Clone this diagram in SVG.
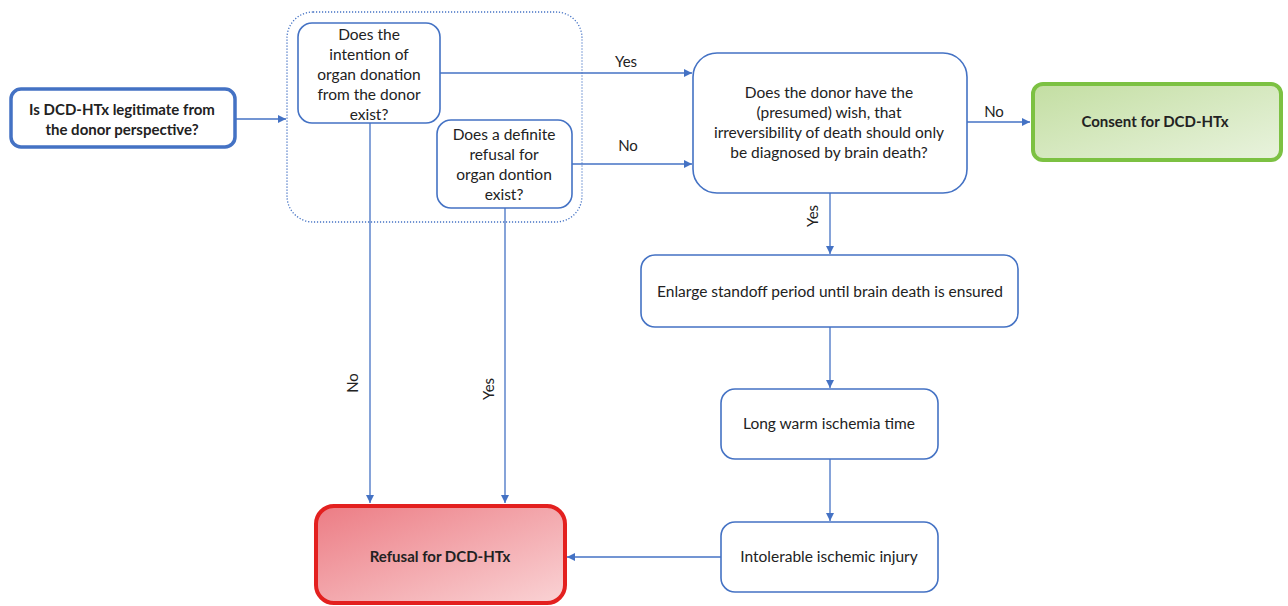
<svg xmlns="http://www.w3.org/2000/svg" width="1288" height="606" viewBox="0 0 1288 606">
<defs>
<style>
.box{fill:#fff;stroke:#4472C4;stroke-width:1.6}
.t{font-family:Lato,"Open Sans","Liberation Sans",sans-serif;font-size:15.5px;fill:#222;text-anchor:middle}
.b{font-weight:bold;font-size:15px}
.c{fill:none;stroke:#4472C4;stroke-width:1.3}
.lbl{font-family:Lato,"Open Sans","Liberation Sans",sans-serif;font-size:15px;fill:#222;text-anchor:middle}
</style>
<marker id="ah" viewBox="0 0 10 10" refX="10" refY="5" markerWidth="8" markerHeight="8" markerUnits="userSpaceOnUse" orient="auto">
<path d="M0,0 L10,5 L0,10 z" fill="#4472C4"/>
</marker>
<linearGradient id="gRed" x1="0" y1="0" x2="1" y2="1">
<stop offset="0" stop-color="#EC7C84"/>
<stop offset="1" stop-color="#FAD3D5"/>
</linearGradient>
<linearGradient id="gGreen" x1="0" y1="0" x2="1" y2="1">
<stop offset="0" stop-color="#C3DEA2"/>
<stop offset="1" stop-color="#E9F3DE"/>
</linearGradient>
</defs>
<rect width="1288" height="606" fill="#fff"/>

<g id="connectors">
<line class="c" x1="236" y1="119" x2="286" y2="119" marker-end="url(#ah)"/>
<line class="c" x1="440" y1="73" x2="692" y2="73" marker-end="url(#ah)"/>
<line class="c" x1="572" y1="164" x2="692" y2="164" marker-end="url(#ah)"/>
<line class="c" x1="967" y1="122" x2="1030" y2="122" marker-end="url(#ah)"/>
<line class="c" x1="830" y1="193" x2="830" y2="254" marker-end="url(#ah)"/>
<line class="c" x1="830" y1="327" x2="830" y2="388" marker-end="url(#ah)"/>
<line class="c" x1="830" y1="459" x2="830" y2="521" marker-end="url(#ah)"/>
<line class="c" x1="721" y1="557" x2="567" y2="557" marker-end="url(#ah)"/>
<line class="c" x1="370" y1="123" x2="370" y2="503" marker-end="url(#ah)"/>
<line class="c" x1="505" y1="208" x2="505" y2="503" marker-end="url(#ah)"/>
<text class="lbl" x="626" y="67">Yes</text>
<text class="lbl" x="628" y="151">No</text>
<text class="lbl" x="994" y="117">No</text>
<text class="lbl" transform="translate(818,216) rotate(-90)">Yes</text>
<text class="lbl" transform="translate(358,383) rotate(-90)">No</text>
<text class="lbl" transform="translate(494,389) rotate(-90)">Yes</text>
</g>

<g id="group-container">
<rect x="287" y="12" width="295" height="210" rx="26" fill="none" stroke="#4472C4" stroke-width="1.3" stroke-dasharray="1.2 1.8"/>
</g>

<g id="start">
<rect x="11" y="89" width="224" height="58" rx="10" fill="#fff" stroke="#4472C4" stroke-width="3.5"/>
<text class="t b" x="122" y="115">Is DCD-HTx legitimate from</text>
<text class="t b" x="122" y="135">the donor perspective?</text>
</g>

<g id="q-intention">
<rect class="box" x="298" y="23" width="142" height="100" rx="14"/>
<text class="t" x="369" y="40">Does the</text>
<text class="t" x="369" y="60">intention of</text>
<text class="t" x="369" y="80">organ donation</text>
<text class="t" x="369" y="100">from the donor</text>
<text class="t" x="369" y="120">exist?</text>
</g>

<g id="q-refusal">
<rect class="box" x="437" y="120" width="135" height="88" rx="14"/>
<text class="t" x="504" y="140">Does a definite</text>
<text class="t" x="504" y="160">refusal for</text>
<text class="t" x="504" y="180">organ dontion</text>
<text class="t" x="504" y="200">exist?</text>
</g>

<g id="q-wish">
<rect class="box" x="693" y="53" width="274" height="140" rx="24"/>
<text class="t" x="829" y="98">Does the donor have the</text>
<text class="t" x="829" y="118">(presumed) wish, that</text>
<text class="t" x="829" y="138">irreversibility of death should only</text>
<text class="t" x="829" y="158">be diagnosed by brain death?</text>
</g>

<g id="consent">
<rect x="1033" y="84" width="248" height="76" rx="10" fill="url(#gGreen)" stroke="#7CC142" stroke-width="4"/>
<text class="t b" x="1155" y="127">Consent for DCD-HTx</text>
</g>

<g id="enlarge">
<rect class="box" x="641" y="255" width="377" height="72" rx="14"/>
<text class="t" x="830" y="297">Enlarge standoff period until brain death is ensured</text>
</g>

<g id="long-warm">
<rect class="box" x="721" y="389" width="217" height="70" rx="14"/>
<text class="t" x="829" y="429">Long warm ischemia time</text>
</g>

<g id="intolerable">
<rect class="box" x="721" y="522" width="217" height="70" rx="14"/>
<text class="t" x="829" y="562">Intolerable ischemic injury</text>
</g>

<g id="refusal">
<rect x="316" y="506" width="249" height="97" rx="18" fill="url(#gRed)" stroke="#E3201F" stroke-width="4"/>
<text class="t b" x="440" y="562">Refusal for DCD-HTx</text>
</g>
</svg>
